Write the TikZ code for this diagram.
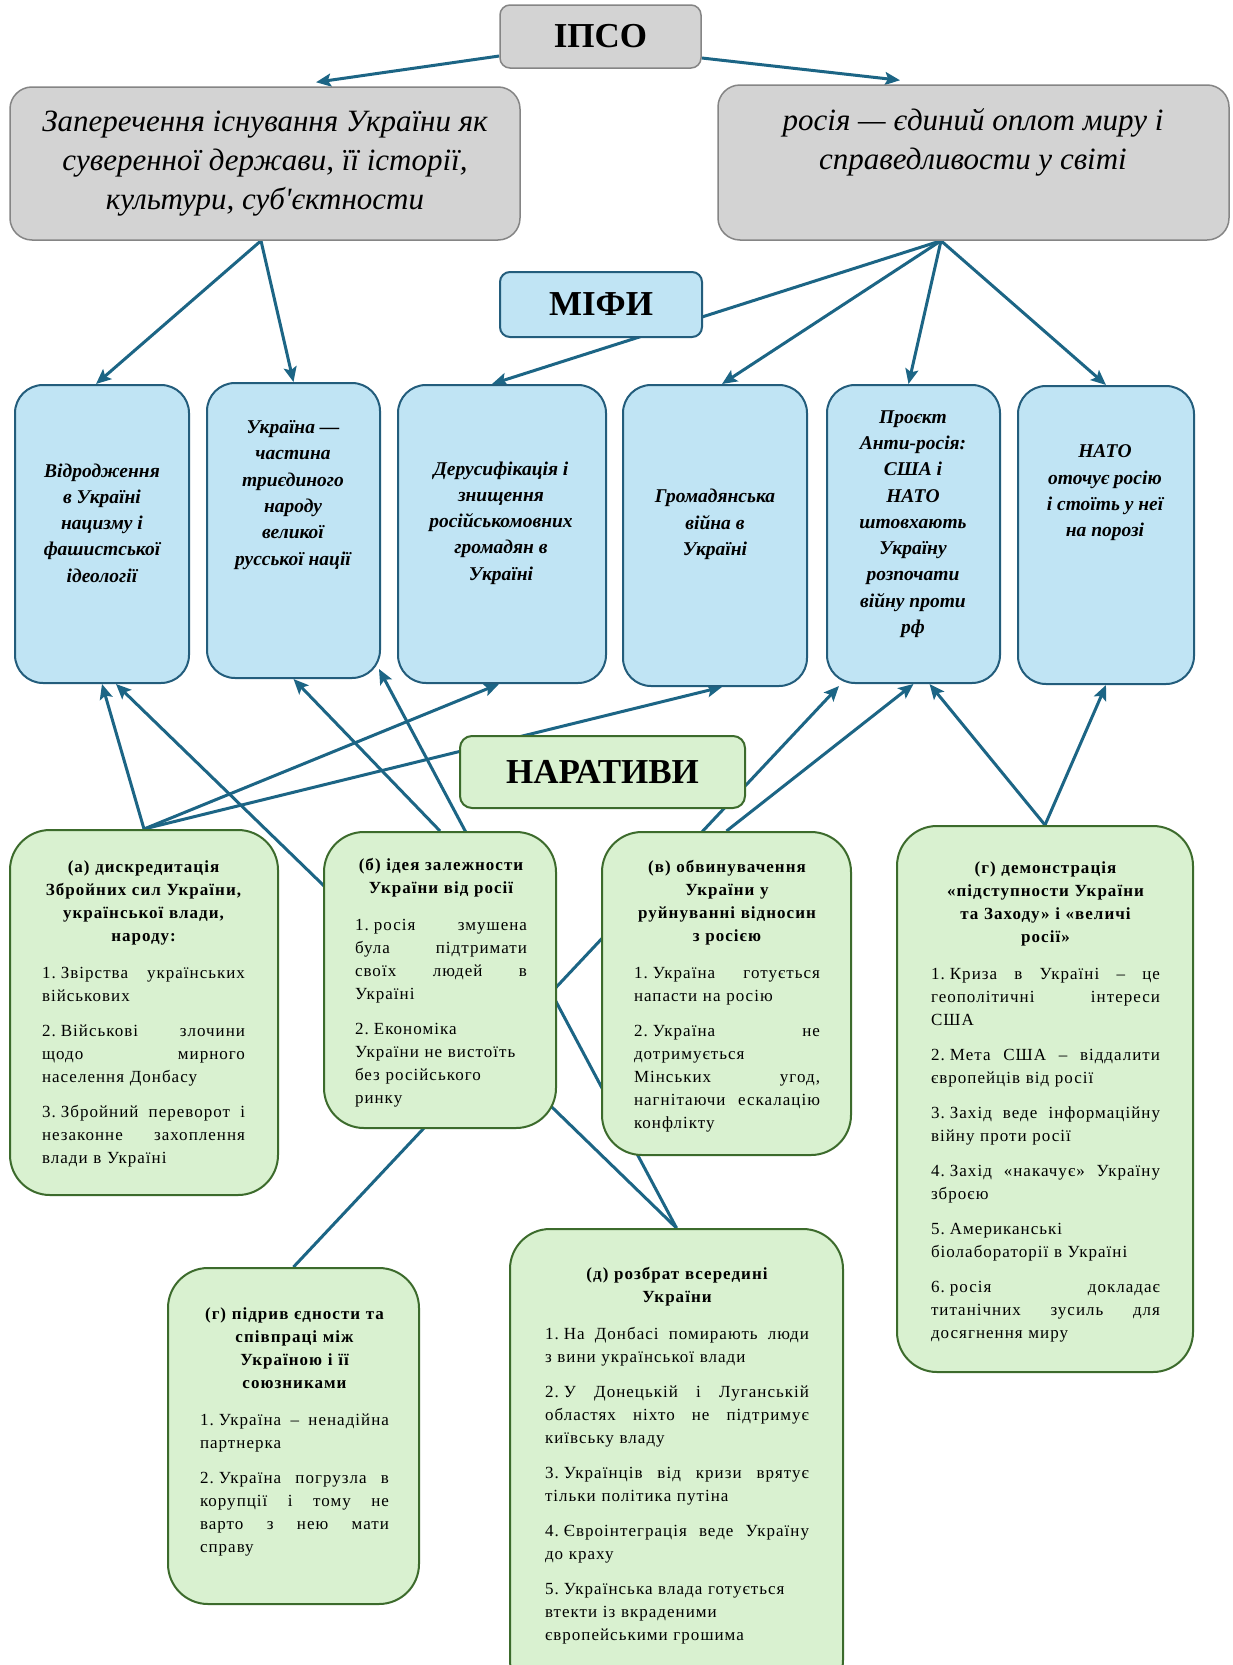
\documentclass[tikz,border=0pt]{standalone}
\usepackage{fontspec}
\setmainfont{Liberation Serif}
\newfontfamily\gfont[LetterSpace=6]{Liberation Serif}
\newfontfamily\topfont[Ligatures=TeXOff]{Liberation Serif}
\usetikzlibrary{arrows.meta,backgrounds}
\definecolor{grayF}{HTML}{D3D3D3}
\definecolor{grayB}{HTML}{858585}
\definecolor{blueF}{HTML}{C0E4F4}
\definecolor{blueB}{HTML}{235D7C}
\definecolor{greenF}{HTML}{D9F1D0}
\definecolor{greenB}{HTML}{3C6B2C}
\definecolor{arrowC}{HTML}{1C6585}
\frenchspacing
\newcommand\JL[1]{\makebox[\hsize][s]{\spaceskip=0pt\xspaceskip=0pt #1}}
\newcommand\CL[1]{\makebox[\hsize][c]{\bfseries #1}}
\newcommand\NM[1]{#1\kern0.3em}
\begin{document}
\begin{tikzpicture}[x=1pt,y=-1pt,
  graybox/.style={draw=grayB, fill=grayF, line width=1.5pt, rounded corners=22pt, inner sep=0pt},
  bluebox/.style={draw=blueB, fill=blueF, line width=2pt, rounded corners=28pt, inner sep=0pt},
  greenbox/.style={draw=greenB, fill=greenF, line width=2pt, rounded corners=40pt, inner sep=0pt},
  titletxt/.style={font={\fontsize{35}{40}\selectfont\bfseries}},
  toptxt/.style={align=center, inner sep=0pt, font={\topfont\fontsize{31}{39}\selectfont\itshape}},
  bluetxt/.style={align=center, inner sep=0pt, font={\fontsize{19.5}{26.3}\selectfont\bfseries\itshape}},
  greentxt/.style={align=left, inner sep=0pt, font={\gfont\fontsize{17}{23}\selectfont}},
  arr/.style={draw=arrowC, line width=3pt, -{Stealth[length=15pt,width=13pt,inset=3pt]}}
]
\useasboundingbox (0,0) rectangle (1232,1665);

% top level
\node[graybox, rounded corners=10pt, minimum width=201pt, minimum height=63pt, titletxt] (ipso) at (600.5,36.5) {ІПСО};
\node[graybox, minimum width=510pt, minimum height=153pt, toptxt] (lg) at (265,163.5)
  {Заперечення існування України як\\суверенної держави, її історії,\\культури, суб'єктности};
\node[graybox, minimum width=511pt, minimum height=155pt] (rg) at (973.5,162.5) {};
\node[toptxt] (rgt) at (973,142) {росія — єдиний оплот миру і\\справедливости у світі};

\node[bluebox, rounded corners=10pt, minimum width=202pt, minimum height=65pt, titletxt] (mify) at (601,304.5) {МІФИ};

% myths
\node[bluebox, minimum width=174pt, minimum height=298pt] (b1) at (102,534) {};
\node[bluebox, minimum width=173pt, minimum height=295pt] (b2) at (293.5,530.5) {};
\node[bluebox, minimum width=208pt, minimum height=298pt] (b3) at (502,534) {};
\node[bluebox, minimum width=184pt, minimum height=301pt] (b4) at (715,535.5) {};
\node[bluebox, minimum width=173pt, minimum height=298pt] (b5) at (913.5,534) {};
\node[bluebox, minimum width=176pt, minimum height=298pt] (b6) at (1106,535) {};

\node[bluetxt] (b1t) at (102,523) {Відродження\\в Україні\\нацизму і\\фашистської\\ідеології};
\node[bluetxt] (b2t) at (293,495) {Україна —\\частина\\триєдиного\\народу\\великої\\русської нації};
\node[bluetxt] (b3t) at (501,523) {Дерусифікація і\\знищення\\російськомовних\\громадян в\\Україні};
\node[bluetxt] (b4t) at (715,524.5) {Громадянська\\війна в\\Україні};
\node[bluetxt] (b5t) at (913,524) {Проєкт\\Анти-росія:\\США і\\НАТО\\штовхають\\Україну\\розпочати\\війну проти\\рф};
\node[bluetxt] (b6t) at (1105,493) {НАТО\\оточує росію\\і стоїть у неї\\на порозі};

\node[greenbox, rounded corners=12pt, minimum width=285pt, minimum height=72pt, titletxt] (nar) at (602.5,772) {НАРАТИВИ};

% narratives
\node[greenbox, minimum width=268pt, minimum height=365pt] (ga) at (144,1012.5) {};
\node[greenbox, minimum width=232pt, minimum height=296pt] (gb) at (440,980) {};
\node[greenbox, minimum width=249pt, minimum height=323pt] (gv) at (726.5,993.5) {};
\node[greenbox, minimum width=296pt, minimum height=546pt] (gd) at (1045,1099) {};
\node[greenbox, minimum width=251pt, minimum height=336pt] (gp) at (293.5,1436) {};
\node[greenbox, minimum width=333pt, minimum height=471pt] (gz) at (676.5,1464.5) {};

\node[greentxt, text width=203pt] (gat) at (143.5,1014) {%
\CL{(а) дискредитація}\\
\CL{Збройних сил України,}\\
\CL{української влади,}\\
\CL{народу:}\\[14pt]
\JL{\NM{1.}Звірства українських}\\
військових\\[12pt]
\JL{\NM{2.}Військові злочини}\\
\JL{щодо мирного}\\
населення Донбасу\\[12pt]
\JL{\NM{3.}Збройний переворот і}\\
\JL{незаконне захоплення}\\
влади в Україні};

\node[greentxt, text width=172pt] (gbt) at (441,983) {%
\CL{(б) ідея залежности}\\
\CL{України від росії}\\[14pt]
\JL{\NM{1.}росія змушена}\\
\JL{була підтримати}\\
\JL{своїх людей в}\\
Україні\\[12pt]
\NM{2.}Економіка\\
України не вистоїть\\
без російського\\
ринку};

\node[greentxt, text width=186pt] (gvt) at (727,996) {%
\CL{(в) обвинувачення}\\
\CL{України у}\\
\CL{руйнуванні відносин}\\
\CL{з росією}\\[14pt]
\JL{\NM{1.}Україна готується}\\
напасти на росію\\[12pt]
\JL{\NM{2.}Україна не}\\
дотримується\\
\JL{Мінських угод,}\\
\JL{нагнітаючи ескалацію}\\
конфлікту};

\node[greentxt, text width=229pt] (gdt) at (1045.5,1102) {%
\CL{(г) демонстрація}\\
\CL{«підступности України}\\
\CL{та Заходу» і «величі}\\
\CL{росії»}\\[14pt]
\JL{\NM{1.}Криза в Україні – це}\\
\JL{геополітичні інтереси}\\
США\\[12pt]
\JL{\NM{2.}Мета США – віддалити}\\
європейців від росії\\[12pt]
\JL{\NM{3.}Захід веде інформаційну}\\
війну проти росії\\[12pt]
\JL{\NM{4.}Захід «накачує» Україну}\\
зброєю\\[12pt]
\NM{5.}Американські\\
біолабораторії в Україні\\[12pt]
\JL{\NM{6.}росія докладає}\\
\JL{титанічних зусиль для}\\
досягнення миру};

\node[greentxt, text width=189pt] (gpt) at (294.5,1432) {%
\CL{(г) підрив єдности та}\\
\CL{співпраці між}\\
\CL{Україною і її}\\
\CL{союзниками}\\[14pt]
\JL{\NM{1.}Україна – ненадійна}\\
партнерка\\[12pt]
\JL{\NM{2.}Україна погрузла в}\\
\JL{корупції і тому не}\\
\JL{варто з нею мати}\\
справу};

\node[greentxt, text width=264pt] (gzt) at (677,1456) {%
\CL{(д) розбрат всередині}\\
\CL{України}\\[14pt]
\JL{\NM{1.}На Донбасі помирають люди}\\
з вини української влади\\[12pt]
\JL{\NM{2.}У Донецькій і Луганській}\\
\JL{областях ніхто не підтримує}\\
київську владу\\[12pt]
\JL{\NM{3.}Українців від кризи врятує}\\
тільки політика путіна\\[12pt]
\JL{\NM{4.}Євроінтеграція веде Україну}\\
до краху\\[12pt]
\NM{5.}Українська влада готується\\
втекти із вкраденими\\
європейськими грошима};

\begin{pgfonlayer}{background}
\fill[white] (0,0) rectangle (1232,1665);
\draw[arr] ([yshift=-19.5pt]ipso.west) -- ([xshift=51pt,yshift=4pt]lg.north);
\draw[arr] ([yshift=-21.5pt]ipso.east) -- ([xshift=-73.5pt,yshift=4pt]rg.north);
\draw[arr] ([xshift=-4pt]lg.south) -- ([xshift=-6pt]b1.north);
\draw[arr] ([xshift=-4pt]lg.south) -- (b2.north);
\draw[arr] ([xshift=-32.5pt]rg.south) -- ([xshift=-10pt]b3.north);
\draw[arr] ([xshift=-32.5pt]rg.south) -- ([xshift=7pt]b4.north);
\draw[arr] ([xshift=-32.5pt]rg.south) -- ([xshift=-5pt]b5.north);
\draw[arr] ([xshift=-32.5pt]rg.south) -- (b6.north);
\draw[arr] (ga.north) -- (b1.south);
\draw[arr] (ga.north) -- ([xshift=-3pt]b3.south);
\draw[arr] (ga.north) -- ([xshift=7pt]b4.south);
\draw[arr] (gz.north) -- ([xshift=14pt]b1.south);
\draw[arr] (gb.north) -- (b2.south);
\draw[arr] (gz.north) -- ([xshift=-2pt,yshift=10pt]b2.south east);
\draw[arr] (gp.north) -- ([xshift=13pt,yshift=-2pt]b5.south west);
\draw[arr] (gv.north) -- (b5.south);
\draw[arr] (gd.north) -- ([xshift=16pt]b5.south);
\draw[arr] (gd.north) -- (b6.south);
\end{pgfonlayer}
\end{tikzpicture}
\end{document}
